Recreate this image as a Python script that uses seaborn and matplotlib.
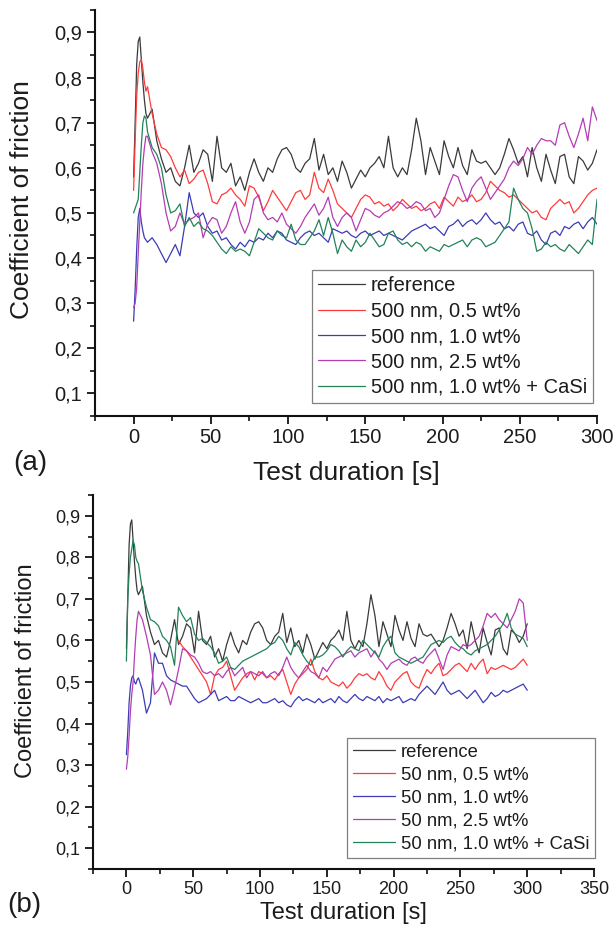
import numpy as np
import matplotlib
matplotlib.use("Agg")
import matplotlib.pyplot as plt
from matplotlib.ticker import MultipleLocator, FuncFormatter
import seaborn as sns

# sample times [s]: every 1 s over the first 10 s, then every 3 s
t = list(range(0, 10)) + list(range(12, 301, 3))
nan = np.nan

# reference curve (same in both panels)
reference = [0.58, 0.70, 0.83, 0.88, 0.89, 0.84, 0.79, 0.75, 0.72, 0.71,
             0.73, 0.66, 0.62, 0.59, 0.60, 0.57, 0.56, 0.60, 0.65, 0.59,
             0.61, 0.64, 0.63, 0.57, 0.67, 0.60, 0.59, 0.61, 0.56, 0.58,
             0.55, 0.59, 0.62, 0.59, 0.57, 0.60, 0.59, 0.62, 0.64, 0.645,
             0.63, 0.60, 0.59, 0.61, 0.62, 0.665, 0.595, 0.63, 0.585, 0.60,
             0.57, 0.615, 0.59, 0.555, 0.575, 0.595, 0.58, 0.60, 0.61, 0.625,
             0.60, 0.67, 0.60, 0.58, 0.60, 0.585, 0.64, 0.71, 0.66, 0.585,
             0.645, 0.615, 0.585, 0.66, 0.625, 0.60, 0.645, 0.605, 0.585, 0.64,
             0.615, 0.61, 0.615, 0.60, 0.585, 0.60, 0.63, 0.665, 0.64, 0.61,
             0.625, 0.58, 0.645, 0.60, 0.57, 0.63, 0.595, 0.565, 0.625, 0.63,
             0.58, 0.565, 0.625, 0.615, 0.595, 0.61, 0.64]

# (a) 500 nm particles
a_05 = [0.55, 0.66, 0.76, 0.81, 0.835, 0.84, 0.82, 0.79, 0.77, 0.78,
        0.72, 0.675, 0.645, 0.64, 0.625, 0.60, 0.58, 0.595, 0.565, 0.575,
        0.59, 0.595, 0.565, 0.525, 0.52, 0.54, 0.545, 0.555, 0.54, 0.53,
        0.515, 0.56, 0.555, 0.535, 0.505, 0.525, 0.55, 0.535, 0.52, 0.505,
        0.525, 0.545, 0.55, 0.53, 0.54, 0.59, 0.555, 0.545, 0.575, 0.55,
        0.52, 0.51, 0.50, 0.49, 0.51, 0.53, 0.54, 0.535, 0.52, 0.525,
        0.515, 0.52, 0.505, 0.515, 0.53, 0.52, 0.51, 0.515, 0.505, 0.51,
        0.52, 0.525, 0.51, 0.535, 0.525, 0.515, 0.535, 0.525, 0.53, 0.54,
        0.525, 0.53, 0.545, 0.57, 0.56, 0.55, 0.545, 0.535, 0.54, 0.53,
        0.52, 0.51, 0.50, 0.505, 0.49, 0.485, 0.51, 0.52, 0.53, 0.52,
        0.525, 0.50, 0.51, 0.525, 0.54, 0.55, 0.555]
a_10 = [0.26, 0.33, 0.42, 0.49, 0.51, 0.48, 0.46, 0.445, 0.44, 0.435,
        0.445, 0.43, 0.41, 0.39, 0.41, 0.43, 0.405, 0.47, 0.545, 0.50,
        0.49, 0.50, 0.47, 0.455, 0.46, 0.44, 0.445, 0.43, 0.42, 0.435,
        0.425, 0.44, 0.435, 0.445, 0.44, 0.455, 0.445, 0.46, 0.455, 0.44,
        0.435, 0.43, 0.445, 0.455, 0.46, 0.45, 0.455, 0.445, 0.435, 0.465,
        0.46, 0.455, 0.46, 0.45, 0.445, 0.455, 0.46, 0.45, 0.455, 0.46,
        0.45, 0.455, 0.45, 0.445, 0.44, 0.45, 0.46, 0.465, 0.47, 0.475,
        0.465, 0.47, 0.46, 0.45, 0.47, 0.475, 0.485, 0.47, 0.48, 0.485,
        0.475, 0.485, 0.50, 0.485, 0.475, 0.48, 0.465, 0.47, 0.46, 0.475,
        0.48, 0.455, 0.45, 0.46, 0.44, 0.43, 0.455, 0.46, 0.45, 0.47,
        0.465, 0.475, 0.48, 0.465, 0.48, 0.49, 0.475]
a_25 = [0.29, 0.30, 0.335, 0.41, 0.48, 0.55, 0.61, 0.645, 0.67, 0.67,
        0.635, 0.61, 0.565, 0.50, 0.46, 0.47, 0.50, 0.475, 0.485, 0.49,
        0.50, 0.445, 0.475, 0.49, 0.485, 0.455, 0.47, 0.50, 0.525, 0.48,
        0.455, 0.48, 0.53, 0.54, 0.50, 0.485, 0.49, 0.48, 0.50, 0.475,
        0.465, 0.455, 0.47, 0.49, 0.505, 0.52, 0.495, 0.51, 0.535, 0.49,
        0.47, 0.49, 0.50, 0.49, 0.46, 0.485, 0.51, 0.505, 0.495, 0.49,
        0.50, 0.505, 0.515, 0.525, 0.52, 0.51, 0.515, 0.525, 0.52, 0.505,
        0.51, 0.49, 0.50, 0.53, 0.56, 0.585, 0.58, 0.55, 0.525, 0.555,
        0.57, 0.58, 0.555, 0.53, 0.545, 0.56, 0.575, 0.60, 0.615, 0.605,
        0.62, 0.645, 0.63, 0.65, 0.665, 0.66, 0.66, 0.65, 0.695, 0.70,
        0.67, 0.645, 0.675, 0.71, 0.66, 0.735, 0.705]
a_casi = [0.50, 0.51, 0.52, 0.53, 0.59, 0.65, 0.70, 0.715, 0.71, 0.68,
          0.645, 0.63, 0.60, 0.54, 0.50, 0.505, 0.52, 0.47, 0.49, 0.47,
          0.48, 0.465, 0.46, 0.45, 0.435, 0.42, 0.41, 0.425, 0.415, 0.42,
          0.415, 0.405, 0.435, 0.465, 0.455, 0.445, 0.44, 0.46, 0.45, 0.445,
          0.475, 0.44, 0.43, 0.43, 0.445, 0.46, 0.485, 0.45, 0.49, 0.455,
          0.41, 0.44, 0.425, 0.415, 0.44, 0.425, 0.435, 0.455, 0.44, 0.425,
          0.43, 0.455, 0.46, 0.44, 0.43, 0.435, 0.425, 0.435, 0.43, 0.415,
          0.425, 0.42, 0.415, 0.43, 0.425, 0.43, 0.435, 0.44, 0.425, 0.44,
          0.445, 0.44, 0.425, 0.43, 0.435, 0.45, 0.465, 0.48, 0.555, 0.53,
          0.51, 0.50, 0.465, 0.415, 0.42, 0.435, 0.425, 0.43, 0.42, 0.415,
          0.43, 0.42, 0.41, 0.425, 0.44, 0.43, 0.53]

# (b) 50 nm particles
b_05 = [nan, nan, nan, nan, nan, nan, nan, nan, nan, nan,
        nan, nan, nan, nan, nan, nan, nan, nan, nan, 0.60,
        0.585, 0.575, 0.56, 0.545, 0.53, 0.515, 0.50, 0.47, 0.515, 0.53,
        0.535, 0.55, 0.515, 0.48, 0.495, 0.51, 0.52, 0.525, 0.505, 0.525,
        0.52, 0.51, 0.515, 0.505, 0.52, 0.53, 0.50, 0.47, 0.495, 0.51,
        0.52, 0.53, 0.555, 0.525, 0.51, 0.505, 0.515, 0.50, 0.495, 0.49,
        0.50, 0.485, 0.495, 0.51, 0.52, 0.515, 0.52, 0.51, 0.505, 0.525,
        0.51, 0.49, 0.48, 0.50, 0.51, 0.52, 0.525, 0.50, 0.49, 0.485,
        0.51, 0.53, 0.52, 0.535, 0.545, 0.515, 0.52, 0.53, 0.54, 0.545,
        0.535, 0.525, 0.545, 0.53, 0.545, 0.555, 0.52, 0.535, 0.53, 0.535,
        0.54, 0.535, 0.53, 0.535, 0.545, 0.555, 0.54]
b_10 = [0.325, 0.38, 0.45, 0.49, 0.51, 0.515, 0.50, 0.495, 0.505, 0.51,
        0.48, 0.425, 0.45, 0.57, 0.545, 0.545, 0.515, 0.505, 0.50, 0.495,
        0.49, 0.49, 0.475, 0.46, 0.45, 0.455, 0.46, 0.47, 0.48, 0.455,
        0.46, 0.465, 0.455, 0.455, 0.465, 0.46, 0.455, 0.45, 0.455, 0.46,
        0.45, 0.45, 0.455, 0.46, 0.45, 0.455, 0.445, 0.44, 0.455, 0.465,
        0.455, 0.46, 0.455, 0.45, 0.46, 0.45, 0.455, 0.46, 0.45, 0.465,
        0.455, 0.45, 0.46, 0.47, 0.46, 0.455, 0.465, 0.46, 0.455, 0.465,
        0.45, 0.46, 0.455, 0.46, 0.465, 0.45, 0.455, 0.46, 0.455, 0.47,
        0.48, 0.49, 0.48, 0.47, 0.485, 0.50, 0.48, 0.47, 0.475, 0.48,
        0.47, 0.46, 0.47, 0.48, 0.465, 0.45, 0.46, 0.475, 0.465, 0.47,
        0.48, 0.475, 0.48, 0.485, 0.49, 0.495, 0.48]
b_25 = [0.29, 0.32, 0.37, 0.43, 0.47, 0.50, 0.56, 0.61, 0.65, 0.67,
        0.65, 0.61, 0.565, 0.47, 0.48, 0.50, 0.48, 0.445, 0.485, 0.53,
        0.58, 0.575, 0.565, 0.56, 0.545, 0.525, 0.52, 0.525, 0.515, 0.52,
        0.51, 0.525, 0.535, 0.515, 0.525, 0.535, 0.51, 0.525, 0.52, 0.515,
        0.525, 0.51, 0.52, 0.525, 0.515, 0.535, 0.56, 0.535, 0.52, 0.51,
        0.525, 0.54, 0.525, 0.52, 0.51, 0.535, 0.525, 0.54, 0.555, 0.56,
        0.565, 0.57, 0.575, 0.56, 0.57, 0.575, 0.58, 0.56, 0.575, 0.555,
        0.545, 0.53, 0.545, 0.55, 0.555, 0.545, 0.54, 0.555, 0.56, 0.55,
        0.545, 0.56, 0.57, 0.58, 0.555, 0.53, 0.565, 0.585, 0.58, 0.575,
        0.59, 0.585, 0.59, 0.60, 0.61, 0.635, 0.665, 0.655, 0.665, 0.65,
        0.64, 0.63, 0.65, 0.67, 0.70, 0.69, 0.60]
b_casi = [0.55, 0.70, 0.76, 0.80, 0.82, 0.84, 0.83, 0.80, 0.79, 0.785,
          0.72, 0.68, 0.65, 0.645, 0.635, 0.61, 0.60, 0.585, 0.54, 0.68,
          0.66, 0.645, 0.655, 0.615, 0.60, 0.605, 0.595, 0.585, 0.57, 0.545,
          0.55, 0.56, 0.535, 0.53, 0.54, 0.55, 0.555, 0.56, 0.565, 0.57,
          0.575, 0.58, 0.59, 0.595, 0.61, 0.60, 0.58, 0.565, 0.595, 0.585,
          0.565, 0.55, 0.54, 0.56, 0.56, 0.565, 0.575, 0.59, 0.585, 0.575,
          0.56, 0.575, 0.585, 0.58, 0.575, 0.60, 0.59, 0.58, 0.57, 0.56,
          0.585, 0.60, 0.61, 0.57, 0.56, 0.555, 0.55, 0.545, 0.55, 0.555,
          0.56, 0.575, 0.59, 0.595, 0.60, 0.595, 0.605, 0.61, 0.595, 0.585,
          0.58, 0.57, 0.565, 0.575, 0.58, 0.585, 0.59, 0.60, 0.61, 0.625,
          0.64, 0.665, 0.63, 0.615, 0.61, 0.605, 0.585]

labels_a = ["reference", "500 nm, 0.5 wt%", "500 nm, 1.0 wt%",
            "500 nm, 2.5 wt%", "500 nm, 1.0 wt% + CaSi"]
labels_b = ["reference", "50 nm, 0.5 wt%", "50 nm, 1.0 wt%",
            "50 nm, 2.5 wt%", "50 nm, 1.0 wt% + CaSi"]
colors = ["#3a3a3a", "#ff3b3b", "#3c3cb4", "#b43cb4", "#23825a"]
y_ticks = [0.1, 0.2, 0.3, 0.4, 0.5, 0.6, 0.7, 0.8, 0.9]
x_ticks_a = [0, 50, 100, 150, 200, 250, 300]
x_ticks_b = [0, 50, 100, 150, 200, 250, 300, 350]

sns.set_style("ticks")
plt.rcParams["font.family"] = ["Liberation Sans", "DejaVu Sans"]
ink = "#1c1c1c"
plt.rcParams.update({"text.color": ink, "axes.labelcolor": ink,
                     "xtick.color": ink, "ytick.color": ink,
                     "xtick.labelcolor": ink, "ytick.labelcolor": ink})

fig = plt.figure(figsize=(6.14, 9.36), dpi=100)
ax1 = fig.add_axes([0.1547, 0.5556, 0.8176, 0.4338])
ax2 = fig.add_axes([0.1515, 0.0716, 0.816, 0.3996])

comma = FuncFormatter(lambda v, p: f"{v:.1f}".replace(".", ","))


def draw(ax, series, labels, xmax, xticks, fs_tick, fs_lab, fs_leg, anchor):
    for vals, lab, col in zip(series, labels, colors):
        sns.lineplot(x=t, y=vals, ax=ax, color=col, lw=0.9, label=lab)
    ax.set_xlim(-25, xmax)
    ax.set_ylim(0.05, 0.95)
    ax.set_xticks(xticks)
    ax.set_yticks(y_ticks)
    ax.yaxis.set_major_formatter(comma)
    ax.xaxis.set_minor_locator(MultipleLocator(25))
    ax.yaxis.set_minor_locator(MultipleLocator(0.05))
    sns.despine(ax=ax)
    for s in ("left", "bottom"):
        ax.spines[s].set_linewidth(1.5)
        ax.spines[s].set_color("#111111")
    ax.tick_params(which="major", direction="out", length=6, width=1.3,
                   labelsize=fs_tick, pad=3, color="#111111")
    ax.tick_params(which="minor", direction="out", length=3.5, width=1.2,
                   color="#111111")
    ax.set_xlabel("Test duration [s]", fontsize=fs_lab)
    ax.set_ylabel("Coefficient of friction", fontsize=fs_lab)
    leg = ax.legend(loc="lower right", bbox_to_anchor=anchor,
                    borderaxespad=0, fontsize=fs_leg, handlelength=2.3,
                    handletextpad=0.3, labelspacing=0.32, borderpad=0.3,
                    fancybox=False, framealpha=1, edgecolor="#808080")
    leg.get_frame().set_linewidth(0.9)


draw(ax1, [reference, a_05, a_10, a_25, a_casi], labels_a, 300, x_ticks_a,
     14.5, 19, 14.5, (0.992, 0.032))
draw(ax2, [reference, b_05, b_10, b_25, b_casi], labels_b, 350, x_ticks_b,
     13, 17, 13.3, (1.002, 0.03))

ax1.yaxis.set_label_coords(-0.122, 0.532)
ax1.xaxis.set_label_coords(0.5, -0.112)
ax2.yaxis.set_label_coords(-0.112, 0.531)
ax2.xaxis.set_label_coords(0.5, -0.088)

fig.text(0.021, 0.5053, "(a)", fontsize=20, va="center", ha="left")
fig.text(0.011, 0.0326, "(b)", fontsize=20, va="center", ha="left")

fig.savefig("out.png", dpi=100)
